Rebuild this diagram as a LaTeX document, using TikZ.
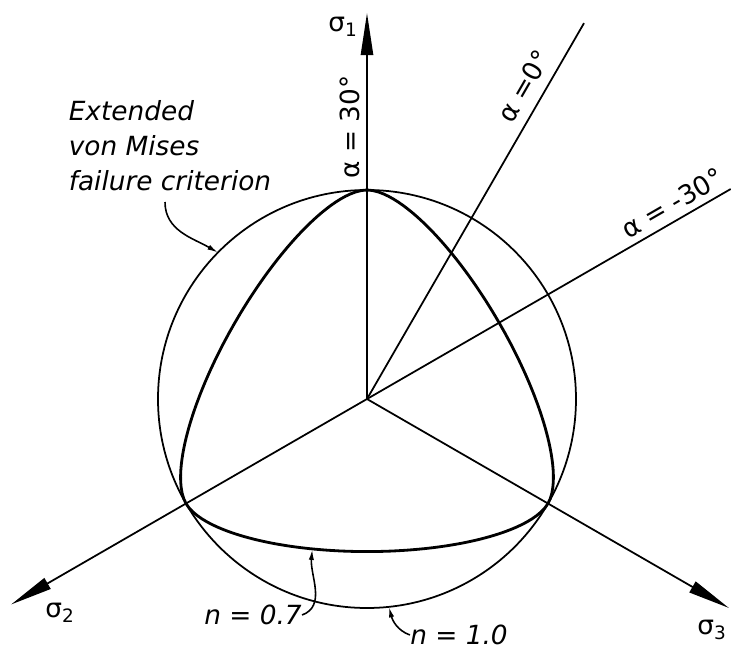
\documentclass[tikz,border=0pt]{standalone}
\usepackage{fontspec}
\setmainfont{DejaVu Sans}
\usetikzlibrary{arrows.meta}
\begin{document}
\begin{tikzpicture}[x=0.02cm,y=0.02cm,
    axis/.style={line width=1pt,-{Triangle[length=24pt,width=7pt]}},
    ray/.style={line width=1pt},
    lbl/.style={font=\fontsize{15}{20}\selectfont,inner sep=0pt},
    itlbl/.style={font=\fontsize{15}{20}\selectfont\itshape,inner sep=0pt},
    pointer/.style={line width=0.9pt,-{Latex[length=6pt,width=3pt]}},
    declare function={
      lodec(\p)=cos(acos(cos(3*(\p-30)))/3);
      wwr(\c)=(0.9342*\c+0.46*sqrt(1.8684*\c*\c-0.2555))/(1.8684*\c*\c+0.2116);
    }]
    \useasboundingbox (-367,-255) rectangle (364,399);
    \coordinate (O) at (0,0);
    \coordinate (s1) at (90:386);
    \coordinate (s2) at (210:411);
    \coordinate (s3) at (-30:418);
    \coordinate (a0) at (60:434);
    \coordinate (am30) at (30:420);
    \draw[axis] (O) -- (s1);
    \draw[axis] (O) -- (s2);
    \draw[axis] (O) -- (s3);
    \draw[ray] (O) -- (a0);
    \draw[ray] (O) -- (am30);
    \draw[line width=1pt] (O) circle (209);
    \draw[line width=1.6pt] plot[variable=\t, domain=0:360, samples=241] (\t:{209*wwr(lodec(\t))}) -- cycle;
    \node[lbl] (sig1) at (-24,372) {σ\textsubscript{1}};
    \node[lbl] (sig2) at (-307,-214) {σ\textsubscript{2}};
    \node[lbl] (sig3) at (345,-231) {σ\textsubscript{3}};
    \node[lbl,rotate=90] (l30) at (-17,272) {α = 30°};
    \node[lbl,rotate=60] (l0) at (157,313) {α =0°};
    \node[lbl,rotate=30] (lm30) at (305,196) {α = -30°};
    \node[itlbl,align=left] (vm) at (-197,253) {Extended\\von Mises\\failure criterion};
    \coordinate (vmtail) at (-202,197);
    \coordinate (vmhead) at (135.5:209);
    \draw[pointer] (vmtail) to[out=-90,in=150] (vmhead);
    \node[itlbl] (n07) at (-114,-216) {n = 0.7};
    \coordinate (n07head) at (250:160);
    \draw[pointer] (n07.east) to[out=20,in=-95] (n07head);
    \node[itlbl] (n10) at (92,-236) {n = 1.0};
    \coordinate (n10head) at (276:209);
    \draw[pointer] (n10.west) to[out=160,in=-75] (n10head);
\end{tikzpicture}
\end{document}
